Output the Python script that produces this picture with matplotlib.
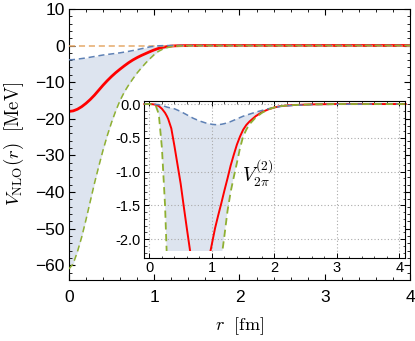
import numpy as np
import matplotlib
matplotlib.use("Agg")
import matplotlib.pyplot as plt
from matplotlib.patches import Rectangle
from matplotlib.ticker import MultipleLocator, FormatStrFormatter

plt.rcParams['font.family'] = ['Liberation Sans', 'DejaVu Sans']
plt.rcParams['mathtext.fontset'] = 'cm'

# ---------------- main panel data ----------------
r_main = [0.00, 0.05, 0.10, 0.15, 0.20, 0.25, 0.30, 0.35, 0.40, 0.45,
          0.50, 0.55, 0.60, 0.65, 0.70, 0.75, 0.80, 0.85, 0.90, 0.95,
          1.00, 1.05, 1.10, 1.15, 1.20, 1.25, 1.30, 1.35, 1.40, 1.50,
          1.70, 2.00, 3.00, 4.00]
v_nlo = [-18.0, -17.85, -17.4, -16.7, -15.8, -14.75, -13.55, -12.2, -10.85, -9.6,
         -8.45, -7.4, -6.45, -5.55, -4.7, -3.95, -3.3, -2.72, -2.2, -1.68,
         -1.2, -0.8, -0.5, -0.3, -0.15, -0.09, -0.05, -0.03, -0.02, -0.01,
         0.0, 0.0, 0.0, 0.0]
v_upper = [-3.9, -3.85, -3.72, -3.56, -3.4, -3.2, -3.0, -2.8, -2.6, -2.45,
           -2.3, -2.15, -2.0, -1.8, -1.6, -1.38, -1.15, -0.88, -0.62, -0.38,
           -0.2, -0.09, -0.04, -0.02, -0.01, 0.0, 0.0, 0.0, 0.0, 0.0,
           0.0, 0.0, 0.0, 0.0]
v_lower = [-61.0, -59.6, -56.3, -52.3, -47.6, -42.6, -37.6, -33.0, -28.6, -24.6,
           -21.0, -17.8, -15.0, -12.7, -10.8, -9.1, -7.5, -6.1, -4.8, -3.6,
           -2.5, -1.6, -1.0, -0.6, -0.32, -0.18, -0.1, -0.06, -0.04, -0.02,
           0.0, 0.0, 0.0, 0.0]
v_zero = [0.0] * len(r_main)

# ---------------- inset data ----------------
r_ins = [-0.08, 0.00, 0.05, 0.10, 0.15, 0.20, 0.25, 0.28, 0.30, 0.35, 0.40, 0.45,
         0.50, 0.55, 0.60, 0.65, 0.70, 0.80, 0.90, 0.95, 1.00, 1.05, 1.10,
         1.15, 1.20, 1.25, 1.30, 1.35, 1.40, 1.45, 1.50, 1.55, 1.60, 1.65,
         1.70, 1.80, 1.90, 2.00, 2.10, 2.30, 2.60, 3.00, 4.00, 4.10]
w_red = [0.0, 0.0, -0.003, -0.01, -0.03, -0.07, -0.13, -0.18, -0.22, -0.36, -0.62, -0.9,
         -1.18, -1.52, -1.85, -2.17, -2.5, -3.0, -2.8, -2.3, -2.07, -1.84, -1.65,
         -1.47, -1.28, -1.1, -0.91, -0.75, -0.6, -0.48, -0.38, -0.31, -0.26, -0.22,
         -0.18, -0.12, -0.08, -0.05, -0.03, -0.015, -0.005, 0.0, 0.0, 0.0]
w_upper = [0.0, 0.0, -0.002, -0.005, -0.01, -0.02, -0.035, -0.045, -0.05, -0.06, -0.07, -0.09,
           -0.11, -0.135, -0.16, -0.185, -0.21, -0.25, -0.28, -0.29, -0.30, -0.305, -0.305,
           -0.30, -0.29, -0.275, -0.26, -0.24, -0.22, -0.2, -0.18, -0.165, -0.15, -0.135,
           -0.12, -0.095, -0.07, -0.05, -0.035, -0.02, -0.008, -0.003, 0.0, 0.0]
w_lower = [0.0, 0.0, -0.005, -0.02, -0.15, -0.65, -1.5, -2.3, -2.9, -4.0, -5.0, -5.6,
           -6.0, -6.0, -6.0, -6.0, -6.0, -5.8, -5.2, -4.6, -4.0, -3.4, -2.9,
           -2.3, -1.95, -1.58, -1.3, -1.08, -0.87, -0.65, -0.48, -0.38, -0.3, -0.25,
           -0.2, -0.13, -0.08, -0.05, -0.03, -0.015, -0.005, 0.0, 0.0, 0.0]

# ---------------- style ----------------
RED = '#ff0000'
BLUE = '#5e81b5'
GREEN = '#8fb032'
ORANGE = '#e6a96a'
FILL = '#dde4ef'
DASH = (0, (4, 2.5))

fig = plt.figure(figsize=(4.15, 3.41), dpi=100)
ax = fig.add_axes([0.166, 0.179, 0.822, 0.795])

ax.fill_between(r_main, v_upper, v_lower, color=FILL, lw=0, zorder=1)
ax.plot(r_main, v_nlo, color=RED, lw=2.0, zorder=2)
ax.plot(r_main, v_zero, color=ORANGE, lw=1.1, ls=DASH, zorder=3)
ax.plot(r_main, v_upper, color=BLUE, lw=1.1, ls=DASH, zorder=3)
ax.plot(r_main, v_lower, color=GREEN, lw=1.1, ls=DASH, zorder=3)

ax.set_xlim(0, 4)
ax.set_ylim(-64, 10)
ax.xaxis.set_major_locator(MultipleLocator(1))
ax.xaxis.set_minor_locator(MultipleLocator(0.2))
ax.yaxis.set_major_locator(MultipleLocator(10))
ax.yaxis.set_minor_locator(MultipleLocator(2))
ax.tick_params(which='both', direction='in', top=True, right=True, labelsize=12.5)
ax.tick_params(which='major', length=4, width=0.8)
ax.tick_params(which='minor', length=2, width=0.6)
ax.tick_params(axis='x', which='major', pad=7)
ax.tick_params(axis='y', which='major', pad=3)
ax.set_xlabel(r'$r\ \ [\mathrm{fm}]$', fontsize=13)
ax.set_ylabel(r'$V_{\mathrm{NLO}}(r)\ \ [\mathrm{MeV}]$', fontsize=13.5)
ax.xaxis.set_label_coords(0.5, -0.13)
ax.yaxis.set_label_coords(-0.125, 0.5)

# ---------------- inset ----------------
ai = fig.add_axes([0.348, 0.2434, 0.628, 0.4604])
ai.set_facecolor('white')
ai.set_axisbelow('line')
clip = Rectangle((-1, -2.17), 6, 3.5, transform=ai.transData)

f = ai.fill_between(r_ins, w_upper, w_lower, color=FILL, lw=0, zorder=1)
f.set_clip_path(clip)
l1, = ai.plot(r_ins, w_red, color=RED, lw=1.4, zorder=2)
l2, = ai.plot(r_ins, w_upper, color=BLUE, lw=1.1, ls=DASH, zorder=3)
l3, = ai.plot(r_ins, w_lower, color=GREEN, lw=1.3, ls=DASH, zorder=3)
for art in (l1, l2, l3):
    art.set_clip_path(clip)

ai.set_xlim(-0.08, 4.09)
ai.set_ylim(-2.28, 0.045)
ai.xaxis.set_major_locator(MultipleLocator(1))
ai.xaxis.set_minor_locator(MultipleLocator(0.2))
ai.yaxis.set_major_locator(MultipleLocator(0.5))
ai.yaxis.set_minor_locator(MultipleLocator(0.1))
ai.yaxis.set_major_formatter(FormatStrFormatter('%.1f'))
ai.grid(True, which='major', ls=(0, (1, 2)), color='#aaaaaa', lw=0.8)
ai.tick_params(which='both', direction='in', top=True, right=True, labelsize=10.5)
ai.tick_params(which='major', length=3.5, width=0.7, pad=2.5)
ai.tick_params(which='minor', length=1.8, width=0.5)
for s in ai.spines.values():
    s.set_linewidth(0.8)
ai.text(1.48, -1.03, r'$V_{2\pi}^{(2)}$', fontsize=14, ha='left', va='center')

fig.savefig('out.png', dpi=100)
